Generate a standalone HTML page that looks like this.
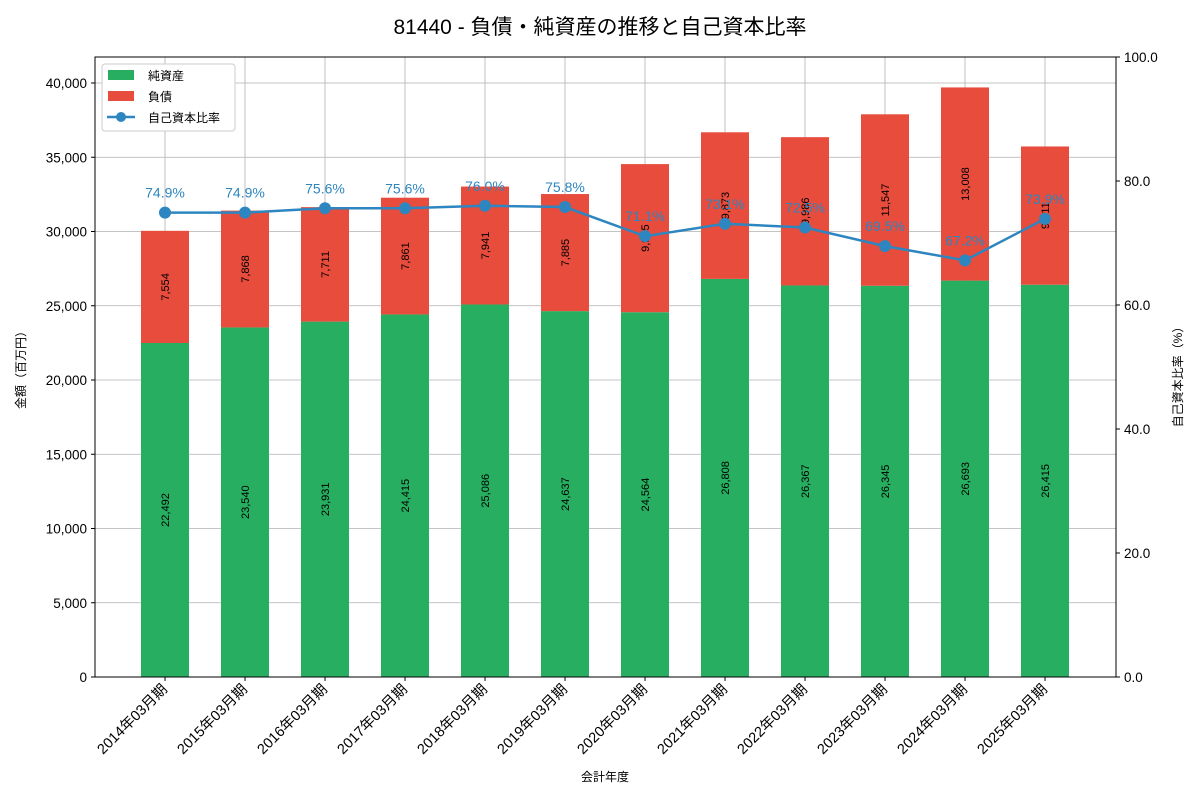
<!DOCTYPE html>
<html><head><meta charset="utf-8"><style>
body{margin:0;background:#fff;}
svg text{font-family:"Liberation Sans","Noto Sans CJK JP",sans-serif;}
</style></head><body>
<svg id="chart" width="1200" height="800" xmlns="http://www.w3.org/2000/svg">
<text x="600" y="34" font-size="21" text-anchor="middle">81440 - 負債・純資産の推移と自己資本比率</text>
<g id="grid"></g><g id="bars"></g><g id="line"></g><g id="axes"></g>
<g>
<rect x="102" y="64" width="133" height="67" fill="#fff" stroke="#ccc" rx="3"/>
<rect x="108" y="70" width="26" height="10" fill="#27ae60"/>
<text x="148" y="80" font-size="12">純資産</text>
<rect x="108" y="91" width="26" height="10" fill="#e74c3c"/>
<text x="148" y="101" font-size="12">負債</text>
<line x1="107" y1="117" x2="135" y2="117" stroke="#2e86c1" stroke-width="2.5"/>
<circle cx="121" cy="117" r="5" fill="#2e86c1"/>
<text x="148" y="122" font-size="12">自己資本比率</text>
</g>
</svg>
<script>
const categories=["2014年03月期","2015年03月期","2016年03月期","2017年03月期","2018年03月期","2019年03月期","2020年03月期","2021年03月期","2022年03月期","2023年03月期","2024年03月期","2025年03月期"];
const equity=[22492,23540,23931,24415,25086,24637,24564,26808,26367,26345,26693,26415];
const liabilities=[7554,7868,7711,7861,7941,7885,9975,9873,9986,11547,13008,9311];
const ratio=[74.9,74.9,75.6,75.6,76.0,75.8,71.1,73.1,72.5,69.5,67.2,73.9];
const leftTicks=[0,5000,10000,15000,20000,25000,30000,35000,40000];
const rightTicks=[0,20,40,60,80,100];
const L=95,R=1116,T=57,B=677;
const NS="http://www.w3.org/2000/svg";
const yL=v=>B-v*(594/40000);
const yR=v=>B-v*(B-T)/100;
const xC=i=>165+i*80;
function mk(tag,attrs,parent,txt){const e=document.createElementNS(NS,tag);for(const k in attrs)e.setAttribute(k,attrs[k]);if(txt!==undefined)e.textContent=txt;document.getElementById(parent).appendChild(e);return e;}
const fmt=v=>v.toLocaleString('en-US');
leftTicks.forEach(t=>{const l=mk('line',{x1:L,x2:R,y1:yL(t),y2:yL(t),stroke:'#b0b0b0','stroke-width':0.8},'grid');

mk('line',{x1:L-4,x2:L,y1:yL(t),y2:yL(t),stroke:'#000'},'axes');
const tx=mk('text',{x:L-8,y:yL(t)+5,'font-size':13.5,'text-anchor':'end'},'axes',fmt(t));
});
rightTicks.forEach(t=>{mk('line',{x1:R,x2:R+4,y1:yR(t),y2:yR(t),stroke:'#000'},'axes');
const tx=mk('text',{x:R+8,y:yR(t)+5,'font-size':13.5},'axes',t.toFixed(1));
});
categories.forEach((c,i)=>{const x=xC(i);
const gl=mk('line',{x1:x,x2:x,y1:T,y2:B,stroke:'#b0b0b0','stroke-width':0.8},'grid');

const w=48;
const b1=mk('rect',{x:x-w/2,y:yL(equity[i]),width:w,height:B-yL(equity[i]),fill:'#27ae60'},'bars');

const top=equity[i]+liabilities[i];
const b2=mk('rect',{x:x-w/2,y:yL(top),width:w,height:yL(equity[i])-yL(top),fill:'#e74c3c'},'bars');

const ye=(B+yL(equity[i]))/2, yl=(yL(equity[i])+yL(top))/2;
const t1=mk('text',{x:0,y:0,'font-size':11,'text-anchor':'middle',transform:`translate(${x+4},${ye}) rotate(-90)`},'bars',fmt(equity[i]));

const t2=mk('text',{x:0,y:0,'font-size':11,'text-anchor':'middle',transform:`translate(${x+4},${yl}) rotate(-90)`},'bars',fmt(liabilities[i]));

mk('line',{x1:x,x2:x,y1:B,y2:B+4,stroke:'#000'},'axes');
const xl=mk('text',{x:0,y:0,'font-size':14.5,'text-anchor':'end',transform:`translate(${x+3},${B+13}) rotate(-45)`},'axes',c);
});
const pts=ratio.map((r,i)=>xC(i)+','+yR(r)).join(' ');
const pl=mk('polyline',{points:pts,fill:'none',stroke:'#2e86c1','stroke-width':2.5},'line');

ratio.forEach((r,i)=>{const c=mk('circle',{cx:xC(i),cy:yR(r),r:6,fill:'#2e86c1'},'line');

const t=mk('text',{x:xC(i),y:yR(r)-15,'font-size':14,'text-anchor':'middle',fill:'#2e86c1'},'line',r.toFixed(1)+'%');
});
const fr=mk('rect',{x:L,y:T,width:R-L,height:B-T,fill:'none',stroke:'#000','stroke-width':1},'axes');

const yt=mk('text',{x:0,y:0,'font-size':12,'text-anchor':'middle',transform:`translate(25,367) rotate(-90)`},'axes','金額（百万円）');

const yt2=mk('text',{x:0,y:0,'font-size':12,'text-anchor':'middle',transform:`translate(1182,374) rotate(-90)`},'axes','自己資本比率（%）');

const xt=mk('text',{x:605,y:781,'font-size':12,'text-anchor':'middle'},'axes','会計年度');

</script>
</body></html>
